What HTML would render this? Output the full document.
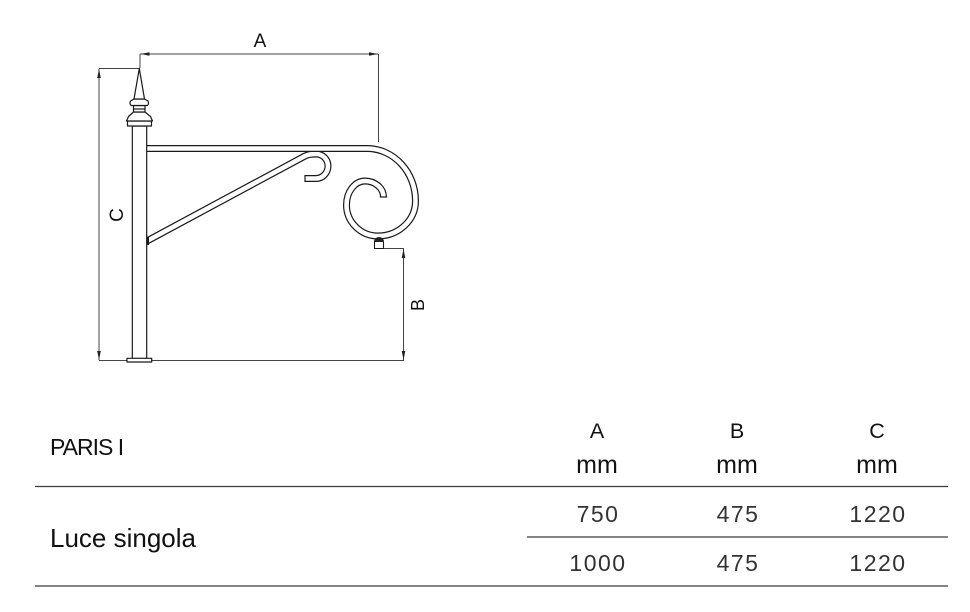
<!DOCTYPE html>
<html>
<head>
<meta charset="utf-8">
<style>
html,body{margin:0;padding:0;background:#fff;}
svg{display:block;}
text{font-family:"Liberation Sans",sans-serif;}
</style>
</head>
<body>
<svg width="970" height="612" viewBox="0 0 970 612" xmlns="http://www.w3.org/2000/svg">
<defs>
<marker id="ah" viewBox="0 0 10 4" refX="10" refY="2" markerWidth="9" markerHeight="3.6" markerUnits="userSpaceOnUse" orient="auto">
<path d="M0,0 L10,2 L0,4 Z" fill="#222"/>
</marker>
</defs>

<!-- dimension lines -->
<g stroke="#444" stroke-width="1" fill="none">
  <!-- A -->
  <line x1="140" y1="54" x2="140" y2="68"/>
  <line x1="378.5" y1="54" x2="378.5" y2="142"/>
  <line x1="141" y1="54" x2="140" y2="54"/>
  <line x1="260" y1="54" x2="140.5" y2="54" marker-end="url(#ah)"/>
  <line x1="260" y1="54" x2="378" y2="54" marker-end="url(#ah)"/>
  <!-- C -->
  <line x1="99" y1="68.5" x2="140" y2="68.5"/>
  <line x1="99" y1="215" x2="99" y2="69" marker-end="url(#ah)"/>
  <line x1="99" y1="215" x2="99" y2="360" marker-end="url(#ah)"/>
  <!-- bottom -->
  <line x1="99" y1="360.5" x2="404" y2="360.5"/>
  <!-- B -->
  <line x1="384" y1="248.5" x2="404" y2="248.5"/>
  <line x1="403.5" y1="305" x2="403.5" y2="249" marker-end="url(#ah)"/>
  <line x1="403.5" y1="305" x2="403.5" y2="360" marker-end="url(#ah)"/>
</g>

<text x="260" y="47" font-size="19" text-anchor="middle" fill="#111">A</text>
<text transform="translate(123,215) rotate(-90)" font-size="19" text-anchor="middle" fill="#111">C</text>
<text transform="translate(424,305) rotate(-90)" font-size="18" text-anchor="middle" fill="#111">B</text>

<!-- brace -->
<g fill="none" stroke-linejoin="round">
  <path d="M147,241 L305,156 C309,154 313,154 316,154 C323,154 328,159.5 328,166 C328,173 322.5,178.5 316,178.5 L305,178.5" stroke="#1a1a1a" stroke-width="7"/>
  <path d="M147,241 L305,156 C309,154 313,154 316,154 C323,154 328,159.5 328,166 C328,173 322.5,178.5 316,178.5 L305,178.5" stroke="#fff" stroke-width="4.6"/>
</g>
<line x1="305" y1="175" x2="305" y2="182" stroke="#1a1a1a" stroke-width="1.2"/>
<line x1="148" y1="237" x2="148" y2="245" stroke="#1a1a1a" stroke-width="2"/>

<!-- arm + scroll -->
<g fill="none">
  <path d="M147,148.5 H367 C393.7,148.5 415.5,172 415.5,201 C415.5,220.3 398.6,236 378,236 C360.7,236 346.5,222 346.5,205 C346.5,191.8 354.8,181 365,181 C375.2,181 383.5,188.2 383.5,197" stroke="#1a1a1a" stroke-width="7"/>
  <path d="M147,148.5 H367 C393.7,148.5 415.5,172 415.5,201 C415.5,220.3 398.6,236 378,236 C360.7,236 346.5,222 346.5,205 C346.5,191.8 354.8,181 365,181 C375.2,181 383.5,188.2 383.5,197" stroke="#fff" stroke-width="4.6"/>
</g>
<line x1="379.8" y1="197" x2="387.2" y2="197" stroke="#1a1a1a" stroke-width="1.2"/>

<!-- knob -->
<path d="M374.5,248.5 V242 A4.5,4.5 0 0 1 383.5,242 V248.5 Z" fill="#fff" stroke="#1a1a1a" stroke-width="1.1"/>
<path d="M374.5,242 A4.5,4.5 0 0 1 383.5,242 Z" fill="#222"/>

<!-- post -->
<g stroke="#1a1a1a" stroke-width="1.2" fill="#fff" stroke-linejoin="round">
  <rect x="132.3" y="126" width="14.4" height="232.5"/>
  <rect x="127" y="358.3" width="24.7" height="3.7"/>
  <!-- spire -->
  <rect x="127.5" y="121" width="24" height="5"/>
  <path d="M133.5,112 L145,112 L150.5,116.5 L152.5,121 L126.5,121 L128.5,116.5 Z"/>
  <rect x="133.5" y="105.5" width="11.5" height="6.5"/>
  <line x1="133.5" y1="109" x2="145" y2="109"/>
  <path d="M134,99 L130.5,101 Q129.3,103.5 131,105.5 L147.5,105.5 Q149.2,103.5 148,101 L144.5,99 Z"/>
  <path d="M139.3,68.5 L134,99 L144.5,99 Z"/>
</g>

<!-- table -->
<text x="50" y="455" font-size="23" letter-spacing="-1" fill="#111">PARIS I</text>
<text x="597" y="438" font-size="21.5" text-anchor="middle" fill="#111">A</text>
<text x="737" y="438" font-size="21.5" text-anchor="middle" fill="#111">B</text>
<text x="877" y="438" font-size="21.5" text-anchor="middle" fill="#111">C</text>
<text x="597" y="473" font-size="25" text-anchor="middle" fill="#111">mm</text>
<text x="737" y="473" font-size="25" text-anchor="middle" fill="#111">mm</text>
<text x="877" y="473" font-size="25" text-anchor="middle" fill="#111">mm</text>

<line x1="35" y1="486.5" x2="948" y2="486.5" stroke="#3a3a3a" stroke-width="1.3"/>

<text x="50" y="547" font-size="26" fill="#111">Luce singola</text>

<g font-size="23" fill="#333" text-anchor="middle" letter-spacing="1.5">
  <text x="598" y="522">750</text>
  <text x="738" y="522">475</text>
  <text x="878" y="522">1220</text>
  <text x="598" y="571">1000</text>
  <text x="738" y="571">475</text>
  <text x="878" y="571">1220</text>
</g>

<line x1="527" y1="537" x2="948" y2="537" stroke="#3a3a3a" stroke-width="1.3"/>
<line x1="35" y1="586" x2="948" y2="586" stroke="#3a3a3a" stroke-width="1.3"/>
</svg>
</body>
</html>
